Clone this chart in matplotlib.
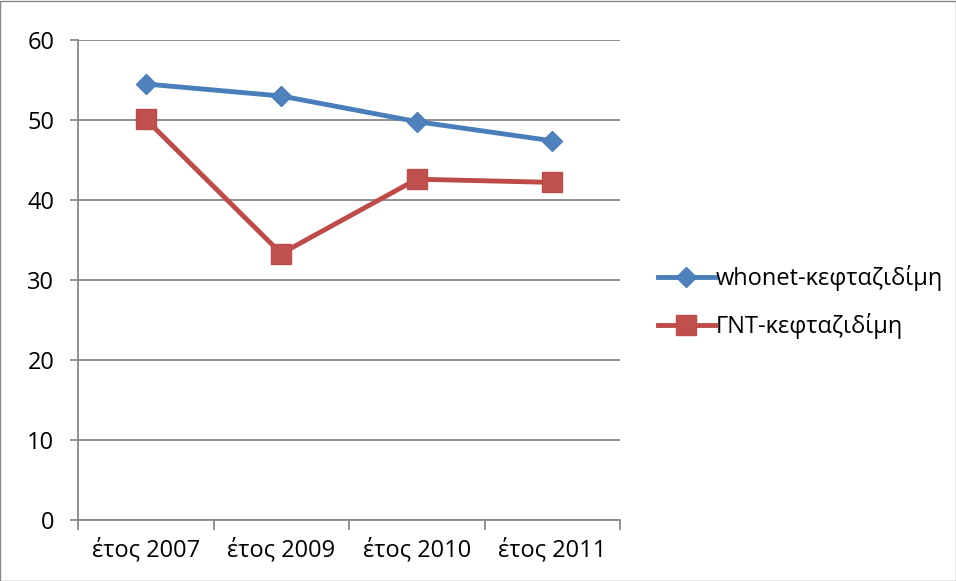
import matplotlib
matplotlib.use("Agg")
import matplotlib.pyplot as plt
from matplotlib.patches import Rectangle
from matplotlib.ticker import FixedLocator, NullFormatter, FixedFormatter

categories = ["έτος 2007", "έτος 2009", "έτος 2010", "έτος 2011"]
whonet = [54.5, 53.0, 49.8, 47.4]
gnt = [50.1, 33.3, 42.6, 42.2]
series_names = ["whonet-κεφταζιδίμη", "ΓΝΤ-κεφταζιδίμη"]

plt.rcParams["font.family"] = ["Open Sans", "DejaVu Sans"]

W, H = 956, 581
fig = plt.figure(figsize=(W / 100, H / 100), dpi=100)
ax = fig.add_axes([78 / W, 1 - 520 / H, (620 - 78) / W, (520 - 40) / H])

x = [i + 0.5 for i in range(len(categories))]
grid_c = "#878787"
fs = 17

ax.plot(x, whonet, color="#4A7EBB", lw=3.5, marker="D", ms=10.5,
        mfc="#4F81BD", mec="#4A7EBB", label=series_names[0], zorder=3)
ax.plot(x, gnt, color="#BE4B48", lw=3.5, marker="s", ms=14,
        mfc="#C0504D", mec="#BE4B48", label=series_names[1], zorder=3)

ax.set_xlim(0, len(categories))
ax.set_ylim(0, 60)
ax.set_yticks(range(0, 61, 10))
ax.yaxis.grid(True, color=grid_c, lw=1.3)
ax.set_axisbelow(True)

ax.xaxis.set_major_locator(FixedLocator(range(len(categories) + 1)))
ax.xaxis.set_major_formatter(NullFormatter())
ax.xaxis.set_minor_locator(FixedLocator(x))
ax.xaxis.set_minor_formatter(FixedFormatter(categories))
ax.tick_params(axis="x", which="major", length=7, width=1.3, color=grid_c)
ax.tick_params(axis="x", which="minor", length=0, pad=13, labelsize=fs)
ax.tick_params(axis="y", length=6, width=1.3, color=grid_c, labelsize=fs, pad=11)

for s in ("top", "right"):
    ax.spines[s].set_visible(False)
for s in ("left", "bottom"):
    ax.spines[s].set_color(grid_c)
    ax.spines[s].set_linewidth(1.3)

leg = fig.legend(loc="center left", bbox_to_anchor=(658 / W, 1 - 302 / H),
                 frameon=False, fontsize=fs, handlelength=2.4,
                 handletextpad=0.05, labelspacing=0.95,
                 borderpad=0, borderaxespad=0)

fig.patches.append(Rectangle((0.0005, 0.0005), 0.999, 0.998, transform=fig.transFigure,
                             fill=False, edgecolor="#868686", lw=1.0))

fig.savefig("out.png", dpi=100, facecolor="white")
